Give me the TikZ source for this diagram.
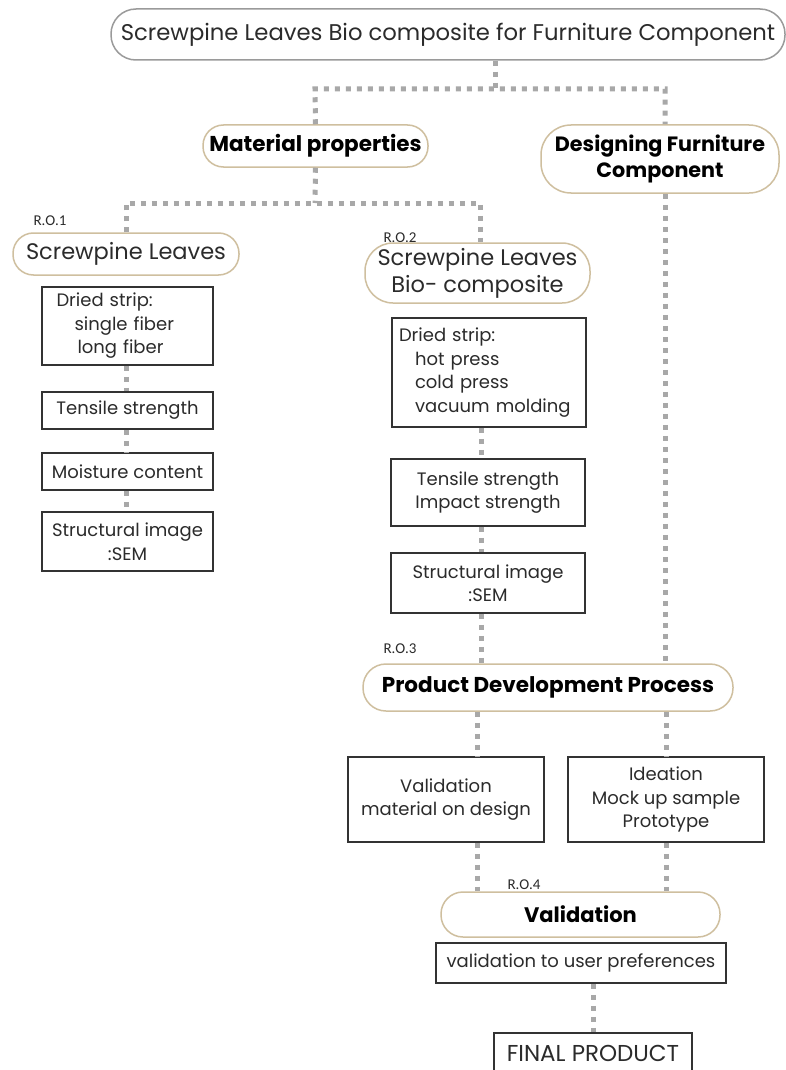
\documentclass[tikz,border=0pt]{standalone}
\usepackage{fontspec}
\setmainfont{Poppins}
\newfontfamily\labfont{Carlito}
\definecolor{dotgray}{HTML}{A8A8A8}
\definecolor{tanline}{HTML}{CFBF9F}
\definecolor{titleline}{HTML}{9A9A9A}
\definecolor{boxline}{HTML}{333333}
\definecolor{txt}{HTML}{2B2B2B}
\begin{document}
\begin{tikzpicture}[x=1pt,y=-1pt,
  conn/.style={draw=dotgray, line width=5pt, dash pattern=on 5pt off 6pt},
  pill/.style={draw=tanline, line width=1.5pt, rounded corners=20pt, fill=white, inner sep=0pt, align=center, text=txt},
  boldpill/.style={pill, font=\fontsize{21.5}{26}\selectfont\bfseries, text=black},
  rbox/.style={draw=boxline, line width=1.8pt, fill=white, inner sep=0pt, align=center, text=txt, font=\fontsize{18}{23.5}\selectfont},
  ro/.style={font=\labfont\fontsize{15}{15}\selectfont, inner sep=0pt, text=txt}
]
\clip (0,0) rectangle (786,1070);
\fill[white] (0,0) rectangle (786,1070);

% coordinates of junctions
\coordinate (j1) at (495,89);
\coordinate (h1L) at (315,89);
\coordinate (h1R) at (665,89);
\coordinate (h2L) at (126,203);
\coordinate (h2M) at (315,203);
\coordinate (h2R) at (480,203);

% title
\node[pill, draw=titleline, rounded corners=25pt, minimum width=674pt, minimum height=51pt,
      font=\fontsize{22.7}{26}\selectfont] (title) at (448,34.5)
  {Screwpine Leaves Bio composite for Furniture Component};

\node[boldpill, minimum width=225pt, minimum height=42pt, rounded corners=20.5pt] (mat) at (315.5,146) {Material properties};
\node[boldpill, minimum width=238pt, minimum height=68pt, rounded corners=30pt, font=\fontsize{20.7}{26}\selectfont\bfseries] (des) at (660,159)
  {Designing Furniture\\Component};

% left column
\node[ro] (ro1) at (50,221) {R.O.1};
\node[pill, minimum width=226pt, minimum height=42pt, rounded corners=20.5pt, font=\fontsize{22.5}{26}\selectfont] (sl1) at (126,254) {Screwpine Leaves};
\node[rbox, minimum width=171pt, minimum height=78pt, text width=142pt, align=left] (ds1) at (127.5,326)
  {Dried strip:\\\hspace*{18pt}single fiber\\\hspace*{21pt}long fiber};
\node[rbox, minimum width=171pt, minimum height=37pt] (ts1) at (127.5,410.5) {Tensile strength};
\node[rbox, minimum width=171pt, minimum height=37pt] (mc1) at (127.5,471.5) {Moisture content};
\node[rbox, minimum width=171pt, minimum height=59pt] (sem1) at (127.5,541.5) {Structural image\\:SEM};

% middle column
\node[ro] (ro2) at (400,238) {R.O.2};
\node[pill, minimum width=225pt, minimum height=60pt, rounded corners=28pt, font=\fontsize{22.5}{27}\selectfont] (sl2) at (477.5,273)
  {Screwpine Leaves\\Bio- composite};
\node[rbox, minimum width=194pt, minimum height=109pt, text width=180pt, align=left] (ds2) at (489,372.5)
  {Dried strip:\\\hspace*{16pt}hot press\\\hspace*{16pt}cold press\\\hspace*{16pt}vacuum molding};
\node[rbox, minimum width=194pt, minimum height=67pt] (ti2) at (488,492.5) {Tensile strength\\Impact strength};
\node[rbox, minimum width=194pt, minimum height=60pt] (sem2) at (488,583) {Structural image\\:SEM};

% product development
\node[ro] (ro3) at (400,649) {R.O.3};
\node[boldpill, minimum width=370pt, minimum height=47pt, rounded corners=23pt] (pdp) at (548,687.5)
  {Product Development Process};
\node[rbox, minimum width=196pt, minimum height=85pt] (vm) at (446,799.5) {Validation\\material on design};
\node[rbox, minimum width=196pt, minimum height=85pt] (idea) at (666,799.5) {Ideation\\Mock up sample\\Prototype};

% validation
\node[ro] (ro4) at (524,885) {R.O.4};
\node[boldpill, minimum width=279pt, minimum height=45pt, rounded corners=22pt, font=\fontsize{21}{26}\selectfont\bfseries] (val) at (580.5,914.5) {Validation};
\node[rbox, minimum width=290pt, minimum height=40pt] (up) at (581,963) {validation to user preferences};
\node[rbox, minimum width=198pt, minimum height=40pt, font=\fontsize{23}{26}\selectfont] (final) at (593,1053) {FINAL PRODUCT};

% connectors
\draw[conn] (title.south -| j1) -- (j1);
\draw[conn] (mat.north) -- (h1L) -- (h1R) -- (h1R |- des.north);
\draw[conn] (mat.south) -- (h2M);
\draw[conn] (sl1.north -| h2L) -- (h2L) -- (h2R) -- (h2R |- sl2.north);
\draw[conn] (ds1.south -| h2L) -- (ts1.north -| h2L);
\draw[conn] (ts1.south -| h2L) -- (mc1.north -| h2L);
\draw[conn] (mc1.south -| h2L) -- (sem1.north -| h2L);
\coordinate (mx) at (481,0);
\draw[conn] (ds2.south -| mx) -- (ti2.north -| mx);
\draw[conn] (ti2.south -| mx) -- (sem2.north -| mx);
\draw[conn] (sem2.south -| mx) -- (pdp.north -| mx);
\draw[conn] (des.south -| h1R) -- (pdp.north -| h1R);
\coordinate (lx) at (477,0);
\coordinate (rx) at (666,0);
\draw[conn] (pdp.south -| lx) -- (vm.north -| lx);
\draw[conn] (pdp.south -| rx) -- (idea.north -| rx);
\draw[conn] (vm.south -| lx) -- (val.north -| lx);
\draw[conn] (idea.south -| rx) -- (val.north -| rx);
\draw[conn] (up.south -| final.north) -- (final.north);
\end{tikzpicture}
\end{document}
